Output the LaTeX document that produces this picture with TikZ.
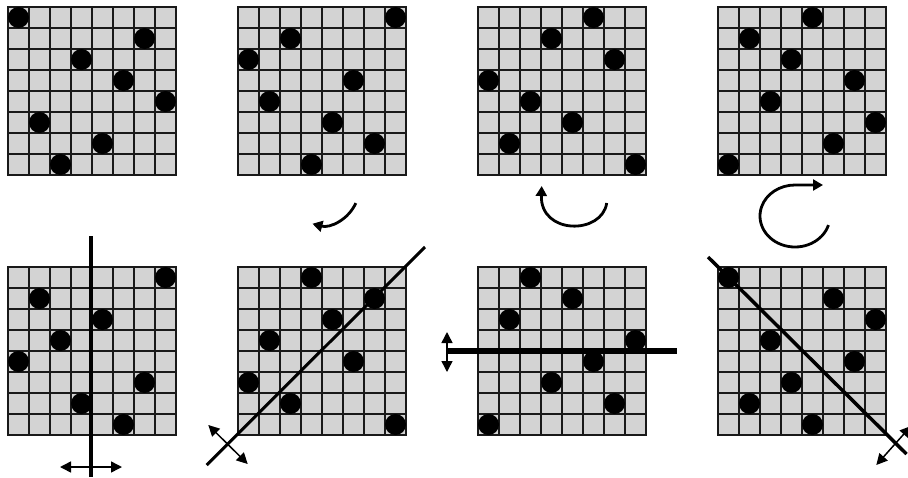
\documentclass[tikz,border=0pt]{standalone}
\usetikzlibrary{arrows.meta}
\definecolor{qgray}{RGB}{211,211,211}
\tikzset{
  boardbox/.style={rectangle, fill=qgray, draw=none, minimum width=168pt, minimum height=168pt, inner sep=0pt, outer sep=0pt},
  gridln/.style={draw=black!90, line width=1.4pt},
  borderln/.style={draw=black!90, line width=1.8pt},
  queen/.style={fill=black},
  mirror/.style={draw=black, line width=#1},
  dblarrow/.style={draw=black, line width=1.5pt, {Triangle[length=11pt,width=11pt]}-{Triangle[length=11pt,width=11pt]}},
  rotarrow/.style={draw=black, line width=2.8pt, -{Triangle[length=10pt,width=11pt]}}
}
\newcommand\qboard[4]{%
  \node[boardbox] (#1) at (#2+84,#3+84) {};
  \begin{scope}[shift={(#1.north west)}]
    \foreach \i in {1,...,7} {
      \draw[gridln] (\i*21,0) -- (\i*21,168);
      \draw[gridln] (0,\i*21) -- (168,\i*21);
    }
    \draw[borderln] (0,0) rectangle (168,168);
    \foreach \c [count=\r from 0] in {#4} {
      \fill[queen] (\c*21+10.5,\r*21+10.5) circle (10.5pt);
    }
  \end{scope}
}
\begin{document}
\begin{tikzpicture}[x=1pt,y=-1pt]
\useasboundingbox (0,0) rectangle (908,477);
\qboard{b1}{8}{7}{0,6,3,5,7,1,4,2}
\qboard{b2}{238}{7}{7,2,0,5,1,4,6,3}
\qboard{b3}{478}{7}{5,3,6,0,2,4,1,7}
\qboard{b4}{718}{7}{4,1,3,6,2,7,5,0}
\qboard{b5}{8}{267}{7,1,4,2,0,6,3,5}
\qboard{b6}{238}{267}{3,6,4,1,5,0,2,7}
\qboard{b7}{478}{267}{2,4,1,7,5,3,6,0}
\qboard{b8}{718}{267}{0,5,7,2,6,3,1,4}
% mirror axes
\coordinate (m5a) at (91,236); \coordinate (m5b) at (91,477);
\coordinate (m6a) at (206.7,465); \coordinate (m6b) at (425,247);
\coordinate (m7a) at (446.7,351); \coordinate (m7b) at (677,351);
\coordinate (m8a) at (708,257); \coordinate (m8b) at (906.5,454);
\draw[mirror=4pt] (m5a) -- (m5b);
\draw[mirror=3pt] (m6a) -- (m6b);
\draw[mirror=5.5pt] (m7a) -- (m7b);
\draw[mirror=3.5pt] (m8a) -- (m8b);
% double arrows
\coordinate (d5a) at (60,467); \coordinate (d5b) at (122,467);
\coordinate (d6a) at (208.3,425); \coordinate (d6b) at (247.7,464);
\coordinate (d7a) at (447,332); \coordinate (d7b) at (447,372);
\coordinate (d8a) at (876.3,465); \coordinate (d8b) at (911,426);
\draw[dblarrow] (d5a) -- (d5b);
\draw[dblarrow] (d6a) -- (d6b);
\draw[dblarrow] (d7a) -- (d7b);
\draw[dblarrow] (d8a) -- (d8b);
% rotation arrows
\coordinate (r1c) at (322,188);
\draw[rotarrow] (r1c) ++(24:37) arc[start angle=24, end angle=105, radius=37];
\coordinate (r2a) at (606.7,203); \coordinate (r2b) at (541.7,186);
\draw[rotarrow] (r2a) .. controls (602,235) and (540,235) .. (r2b);
\coordinate (r3c) at (795,216); \coordinate (r3e) at (823,185);
\draw[rotarrow] (r3c) ++(17:35 and 31) arc[start angle=17, end angle=270, x radius=35, y radius=31] -- (r3e);
\end{tikzpicture}
\end{document}
